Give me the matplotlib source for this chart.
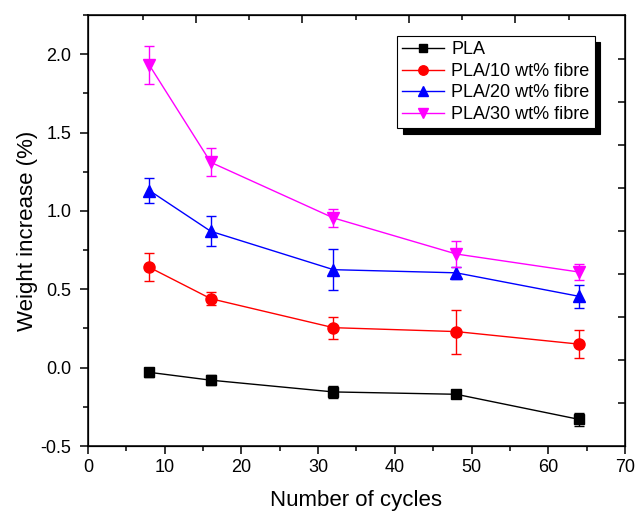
import matplotlib
matplotlib.use("Agg")
import matplotlib.pyplot as plt
import numpy as np

plt.rcParams['font.family'] = ['Liberation Sans', 'DejaVu Sans']
plt.rcParams['axes.unicode_minus'] = False

cycles = [8, 16, 32, 48, 64]

pla = [-0.03, -0.08, -0.155, -0.17, -0.33]
pla_err = [0.03, 0.03, 0.04, 0.025, 0.04]

f10 = [0.64, 0.44, 0.255, 0.23, 0.15]
f10_err = [0.09, 0.04, 0.07, 0.14, 0.09]

f20 = [1.13, 0.87, 0.625, 0.605, 0.455]
f20_err = [0.08, 0.095, 0.13, 0.04, 0.075]

f30 = [1.93, 1.31, 0.955, 0.725, 0.61]
f30_err = [0.12, 0.09, 0.06, 0.085, 0.05]

labels = ["PLA", "PLA/10 wt% fibre", "PLA/20 wt% fibre", "PLA/30 wt% fibre"]
colors = ["black", "#ff0000", "#0000ff", "#ff00ff"]
markers = ["s", "o", "^", "v"]
msizes = [7, 8, 8.5, 8.5]

fig = plt.figure(figsize=(6.44, 5.13), dpi=100)
ax = fig.add_axes([0.1366, 0.1306, 0.8339, 0.8402])

for y, e, c, m, ms, lab in zip([pla, f10, f20, f30], [pla_err, f10_err, f20_err, f30_err],
                                colors, markers, msizes, labels):
    ax.errorbar(cycles, y, yerr=e, fmt='none', ecolor=c, elinewidth=1, capsize=3.5, capthick=1)
    ax.plot(cycles, y, color=c, marker=m, markersize=ms, lw=1, label=lab)

ax.set_xlim(0, 70)
ax.set_ylim(-0.5, 2.25)
ax.set_xticks(np.arange(0, 71, 10))
ax.set_xticks(np.arange(0, 71, 5), minor=True)
ax.set_yticks(np.arange(-0.5, 2.01, 0.5))
ax.set_yticks(np.arange(-0.5, 2.26, 0.25), minor=True)
ax.set_yticklabels(['{:.1f}'.format(v) for v in np.arange(-0.5, 2.01, 0.5)])

ax.tick_params(which='both', direction='out', labelsize=13, width=1.1, top=False, right=False)
ax.tick_params(which='major', length=6)
ax.tick_params(which='minor', length=3.5)
ax.tick_params(axis='y', pad=6)
for s in ax.spines.values():
    s.set_linewidth(1.1)

# mirrored ticks on top and right (inward)
axt = ax.twiny()
axt.set_xlim(ax.get_xlim())
axt.set_xticks(7.13 + 6.94 * np.arange(1, 9, 2))
axt.set_xticks(7.13 + 6.94 * np.arange(0, 9, 2), minor=True)
axt.tick_params(which='both', direction='in', labeltop=False, width=1.1)
axt.tick_params(which='major', length=6)
axt.tick_params(which='minor', length=3.5)

axr = ax.twinx()
axr.set_ylim(ax.get_ylim())
axr.set_yticks(-0.226 + 0.2745 * np.arange(0, 9))
axr.tick_params(which='both', direction='in', labelright=False, width=1.1, length=5)

ax.set_xlabel("Number of cycles", fontsize=16, labelpad=10)
ax.set_ylabel("Weight increase (%)", fontsize=16, labelpad=2)

leg = ax.legend(loc='upper left', bbox_to_anchor=(0.6165, 0.9298), bbox_transform=fig.transFigure,
                fontsize=13, fancybox=False, framealpha=1, edgecolor='black', borderaxespad=0,
                borderpad=0.3, labelspacing=0.25, handlelength=2.3, handletextpad=0.4,
                markerscale=0.85,
                shadow={'color': 'black', 'alpha': 1, 'ox': 4, 'oy': -4})
leg.get_frame().set_linewidth(0.8)

fig.savefig("out.png", dpi=100)
